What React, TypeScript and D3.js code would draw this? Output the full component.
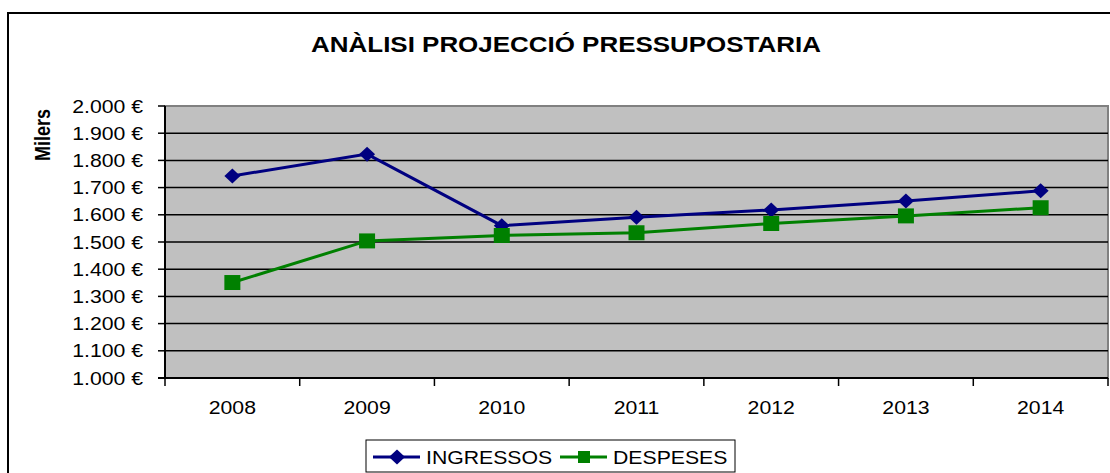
import React, { useEffect, useRef } from "react";
import * as d3 from "d3";

const YEARS = ["2008", "2009", "2010", "2011", "2012", "2013", "2014"];
const INGRESSOS = [1743, 1823, 1560, 1591, 1618, 1651, 1688];
const DESPESES = [1351, 1504, 1524, 1534, 1568, 1596, 1626];
const Y_TICKS = [1000, 1100, 1200, 1300, 1400, 1500, 1600, 1700, 1800, 1900, 2000];

const FONT = "'Liberation Sans', Arial, sans-serif";
const SX = 1.18; // the original is stretched horizontally

const fmt = (v: number) => d3.format(",")(v).replace(/,/g, ".") + " €";

export default function App() {
  const ref = useRef<SVGSVGElement>(null);
  useEffect(() => {
    const node = ref.current;
    if (!node) return;
    const W = 1110, H = 473;
    const m = { l: 165, r: 1108, t: 106, b: 378 };
    const svg = d3.select(node);
    svg.selectAll("*").remove();

    const x = d3.scaleBand().domain(YEARS).range([m.l, m.r]);
    const y = d3.scaleLinear().domain([1000, 2000]).range([m.b, m.t]);

    // chart frame (cut off on right & bottom)
    svg.append("rect").attr("x", 8).attr("y", 13).attr("width", W + 20).attr("height", H + 20)
      .attr("fill", "#fff").attr("stroke", "#000").attr("stroke-width", 2);

    const text = (g: any, px: number, py: number, s: string, size: number, anchor: string, bold = false) =>
      g.append("text").attr("transform", `translate(${px},${py}) scale(${SX},1)`)
        .attr("text-anchor", anchor).attr("font-family", FONT).attr("font-size", size)
        .attr("font-weight", bold ? "bold" : "normal").attr("fill", "#000").text(s);

    text(svg, 566, 52, "ANÀLISI PROJECCIÓ PRESSUPOSTARIA", 22, "middle", true);

    // plot area
    svg.append("rect").attr("x", m.l).attr("y", m.t).attr("width", m.r - m.l).attr("height", m.b - m.t)
      .attr("fill", "#c0c0c0").attr("stroke", "#808080").attr("stroke-width", 2);

    const g = svg.append("g");
    g.selectAll("line.grid").data(Y_TICKS.slice(1, -1)).enter().append("line")
      .attr("x1", m.l).attr("x2", m.r).attr("y1", (d) => y(d)).attr("y2", (d) => y(d))
      .attr("stroke", "#000").attr("stroke-width", 1.5);

    // y axis
    g.append("line").attr("x1", m.l).attr("x2", m.l).attr("y1", m.t).attr("y2", m.b + 1)
      .attr("stroke", "#000").attr("stroke-width", 2);
    Y_TICKS.forEach((v) => {
      g.append("line").attr("x1", m.l - 7).attr("x2", m.l).attr("y1", y(v)).attr("y2", y(v))
        .attr("stroke", "#000").attr("stroke-width", 1.5);
      text(g, 143, y(v) + 6.5, fmt(v), 18, "end");
    });

    // x axis
    g.append("line").attr("x1", m.l - 7).attr("x2", m.r).attr("y1", m.b).attr("y2", m.b)
      .attr("stroke", "#000").attr("stroke-width", 2);
    YEARS.forEach((yr, i) => {
      const x0 = x(yr)!;
      g.append("line").attr("x1", x0).attr("x2", x0).attr("y1", m.b).attr("y2", m.b + 8)
        .attr("stroke", "#000").attr("stroke-width", 1.5);
      if (i === YEARS.length - 1) {
        g.append("line").attr("x1", m.r).attr("x2", m.r).attr("y1", m.b).attr("y2", m.b + 8)
          .attr("stroke", "#000").attr("stroke-width", 1.5);
      }
      text(g, x0 + x.bandwidth() / 2, 414, yr, 18, "middle");
    });

    svg.append("text").attr("transform", `translate(50,135) rotate(-90) scale(1,${SX})`)
      .attr("text-anchor", "middle").attr("font-family", FONT).attr("font-size", 18)
      .attr("font-weight", "bold").text("Milers");

    const cx = (i: number) => x(YEARS[i])! + x.bandwidth() / 2;
    const line = d3.line<number>().x((_, i) => cx(i)).y((d) => y(d));
    const diamond = (px: number, py: number) => `M${px},${py - 7.5}L${px + 8},${py}L${px},${py + 7.5}L${px - 8},${py}Z`;
    const square = (px: number, py: number) => `M${px - 8},${py - 7.5}h16v15h-16Z`;

    const series = [
      { name: "INGRESSOS", data: INGRESSOS, color: "#000080", mark: diamond },
      { name: "DESPESES", data: DESPESES, color: "#008000", mark: square },
    ];
    series.forEach((s) => {
      g.append("path").attr("d", line(s.data)).attr("fill", "none").attr("stroke", s.color).attr("stroke-width", 3);
    });
    series.forEach((s) => {
      g.selectAll(null).data(s.data).enter().append("path")
        .attr("d", (d, i) => s.mark(cx(i), y(d))).attr("fill", s.color);
    });

    // legend
    const lg = svg.append("g");
    lg.append("rect").attr("x", 366).attr("y", 440).attr("width", 369).attr("height", 32)
      .attr("fill", "#fff").attr("stroke", "#000").attr("stroke-width", 1);
    const lx = [373, 560];
    series.forEach((s, i) => {
      lg.append("line").attr("x1", lx[i]).attr("x2", lx[i] + 47).attr("y1", 457).attr("y2", 457)
        .attr("stroke", s.color).attr("stroke-width", 3);
      const mx = lx[i] + 24;
      lg.append("path").attr("d", i === 0 ? diamond(mx, 457) : `M${mx - 6},451h12v12h-12Z`).attr("fill", s.color);
      text(lg, lx[i] + 53, 464, s.name, 18, "start");
    });
  }, []);
  return <svg ref={ref} width={1110} height={473} style={{ display: "block", position: "absolute", left: 0, top: 0 }} />;
}
